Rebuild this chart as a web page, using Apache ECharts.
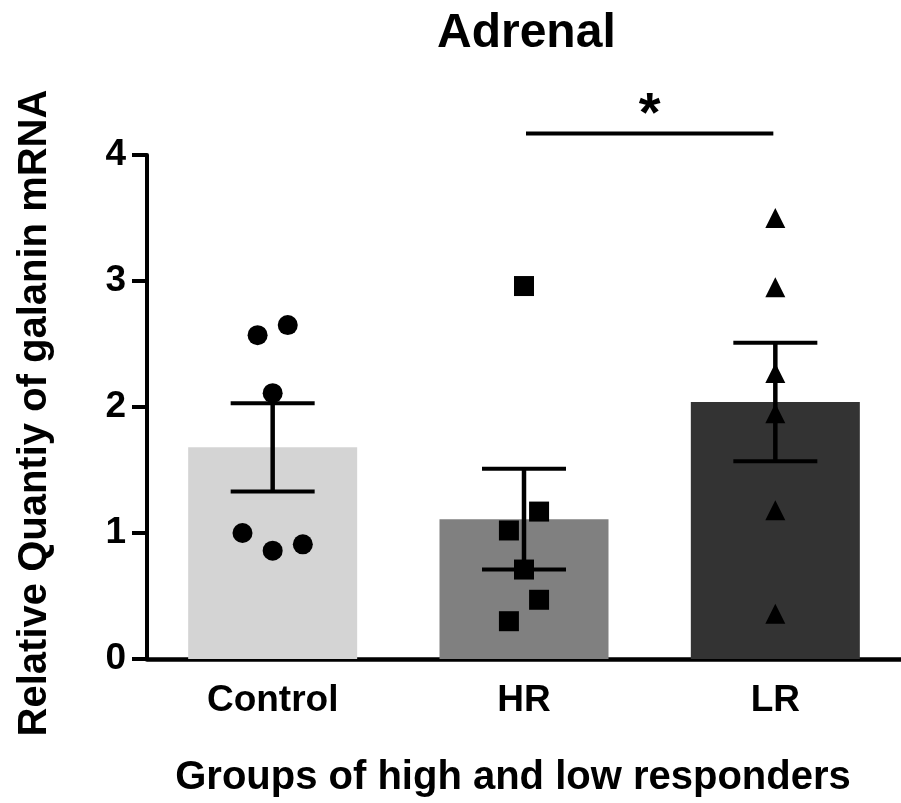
<!DOCTYPE html>
<html>
<head>
<meta charset="utf-8">
<script src="https://cdn.jsdelivr.net/npm/echarts@6/dist/echarts.min.js"></script>
<style>html,body{margin:0;padding:0;background:#fff}#chart{width:901px;height:803px}</style>
</head>
<body>
<div id="chart"></div>
<script>
// ---- data ----
const categories = ['Control', 'HR', 'LR'];
const barMeans = [1.68, 1.11, 2.04];
const barSEM = [0.35, 0.40, 0.47];
const controlPoints = [2.57, 2.65, 2.11, 1.00, 0.86, 0.91];
const controlJitter = [-0.06, 0.06, 0, -0.12, 0, 0.12];
const hrPoints = [2.96, 1.17, 1.02, 0.71, 0.47, 0.30];
const hrJitter = [0, 0.06, -0.06, 0, 0.06, -0.06];
const lrPoints = [3.50, 2.95, 2.27, 1.95, 1.18, 0.36];
const lrJitter = [0, 0, 0, 0, 0, 0];
const yTicks = [0, 1, 2, 3, 4];
const sigPair = [1, 2];
const sigLevel = 4.17;
const sigLabel = '*';

// ---- styles ----
const FONT = "'Liberation Sans', Arial, sans-serif";
const barColors = ['#d4d4d4', '#808080', '#333333'];

function pts(vals, jit, idx) {
  return vals.map((v, i) => [idx + jit[i], v]);
}

const chart = echarts.init(document.getElementById('chart'), null, {renderer: 'canvas'});
chart.setOption({
  animation: false,
  backgroundColor: '#fff',
  title: {
    text: 'Adrenal', left: 432, top: 5,
    textStyle: {fontFamily: FONT, fontSize: 48, fontWeight: 'bold', color: '#000'}
  },
  grid: {left: 147, top: 155, width: 759, height: 505, containLabel: false},
  xAxis: [{
    type: 'category', data: categories, boundaryGap: true,
    name: 'Groups of high and low responders', nameLocation: 'middle', nameGap: 99,
    nameTextStyle: {fontFamily: FONT, fontSize: 40, fontWeight: 'bold', color: '#000', padding: [0, 22, 0, 0]},
    axisLine: {lineStyle: {color: '#000', width: 4.5}},
    axisTick: {alignWithLabel: true, length: 14, lineStyle: {color: '#000', width: 4}},
    axisLabel: {fontFamily: FONT, fontSize: 37, fontWeight: 'bold', color: '#000', margin: 23},
    splitLine: {show: false}
  }, {
    type: 'value', show: false, min: -0.5, max: 2.5
  }],
  yAxis: {
    type: 'value', min: yTicks[0], max: yTicks[yTicks.length - 1], interval: 1,
    name: 'Relative Quantiy of galanin mRNA', nameLocation: 'middle', nameGap: 92,
    nameTextStyle: {fontFamily: FONT, fontSize: 40, fontWeight: 'bold', color: '#000', padding: [0, 12, 0, 0]},
    axisLine: {show: true, onZero: false, lineStyle: {color: '#000', width: 4}},
    axisTick: {show: true, length: 15, lineStyle: {color: '#000', width: 4}},
    axisLabel: {fontFamily: FONT, fontSize: 37, fontWeight: 'bold', color: '#000', margin: 21},
    splitLine: {show: false}
  },
  series: [
    {
      type: 'bar', xAxisIndex: 0, barWidth: 169,
      data: barMeans.map((v, i) => ({value: v, itemStyle: {color: barColors[i]}})),
      z: 1
    },
    {
      type: 'custom', xAxisIndex: 1, z: 3, clip: false,
      data: categories.map((c, i) => [i, barMeans[i], barSEM[i]]),
      renderItem: function (params, api) {
        const x = api.value(0), m = api.value(1), s = api.value(2);
        const t = api.coord([x, m + s]);
        const b = api.coord([x, m - s]);
        const half = 42;
        return {
          type: 'group',
          children: [
            {type: 'line', shape: {x1: t[0], y1: t[1], x2: b[0], y2: b[1]}, style: {stroke: '#000', lineWidth: 4.5}},
            {type: 'line', shape: {x1: t[0] - half, y1: t[1], x2: t[0] + half, y2: t[1]}, style: {stroke: '#000', lineWidth: 4}},
            {type: 'line', shape: {x1: b[0] - half, y1: b[1], x2: b[0] + half, y2: b[1]}, style: {stroke: '#000', lineWidth: 4}}
          ]
        };
      }
    },
    {
      type: 'scatter', xAxisIndex: 1, symbol: 'circle', symbolSize: 20, z: 4,
      itemStyle: {color: '#000', opacity: 1}, data: pts(controlPoints, controlJitter, 0)
    },
    {
      type: 'scatter', xAxisIndex: 1, symbol: 'rect', symbolSize: 20, z: 4,
      itemStyle: {color: '#000', opacity: 1}, data: pts(hrPoints, hrJitter, 1)
    },
    {
      type: 'scatter', xAxisIndex: 1, symbol: 'triangle', symbolSize: 20, z: 4,
      itemStyle: {color: '#000', opacity: 1}, data: pts(lrPoints, lrJitter, 2)
    },
    {
      type: 'custom', xAxisIndex: 1, z: 5, clip: false,
      data: [[sigPair[0], sigPair[1], sigLevel]],
      renderItem: function (params, api) {
        const p1 = api.coord([api.value(0), api.value(2)]);
        const p2 = api.coord([api.value(1), api.value(2)]);
        return {
          type: 'group',
          children: [
            {type: 'line', shape: {x1: p1[0] + 2, y1: p1[1], x2: p2[0] - 2, y2: p2[1]}, style: {stroke: '#000', lineWidth: 4}},
            {type: 'text', x: (p1[0] + p2[0]) / 2, y: p1[1] + 10,
             style: {text: sigLabel, fontFamily: FONT, fontSize: 56, fontWeight: 'bold', fill: '#000',
                     align: 'center', verticalAlign: 'bottom'}}
          ]
        };
      }
    }
  ]
});
</script>
</body>
</html>
